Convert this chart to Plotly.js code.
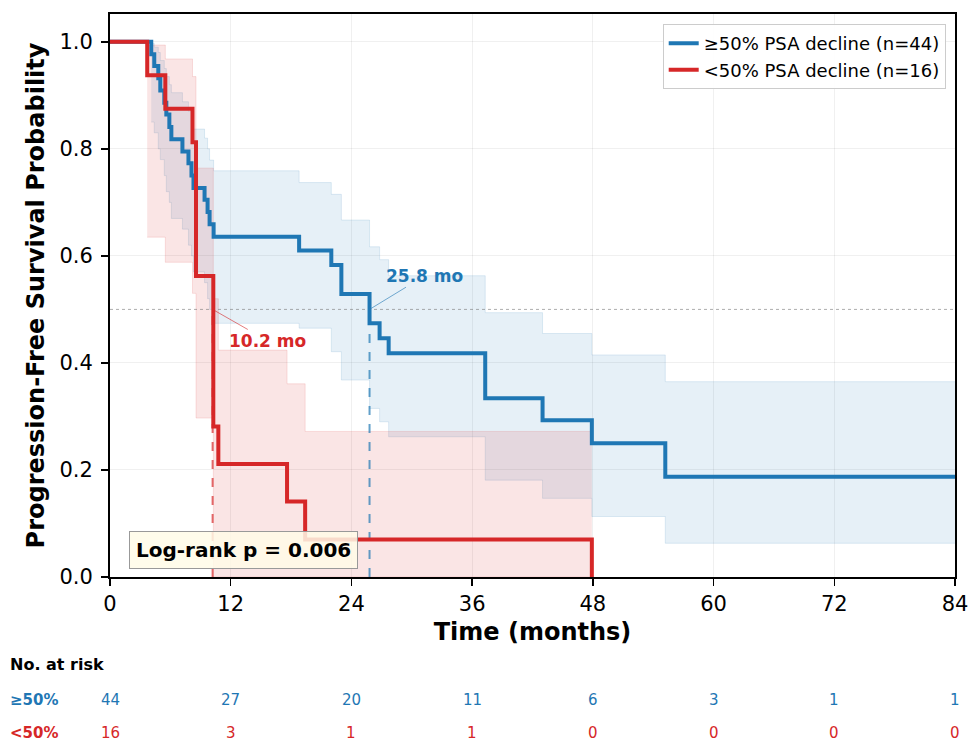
<!DOCTYPE html>
<html>
<head>
<meta charset="utf-8">
<script src="https://cdn.plot.ly/plotly-3.0.1.min.js"></script>
<style>
  html, body { margin: 0; padding: 0; background: #fff; }
  #chart { width: 980px; height: 750px; }
</style>
</head>
<body>
<div id="chart"></div>
<script>
// Kaplan-Meier values (months, survival probability)
const blueTime = [0, 4.1, 4.4, 4.8, 5.0, 5.4, 5.6, 5.9, 6.1, 7.2, 7.8, 8.1, 8.3, 9.4, 9.7, 9.9, 10.3, 18.8, 22.0, 23.0, 25.8, 26.8, 27.7, 37.3, 43.0, 47.9, 55.2, 84];
const blueSurv = [1.0, 0.977, 0.955, 0.932, 0.909, 0.886, 0.864, 0.841, 0.818, 0.795, 0.773, 0.750, 0.727, 0.705, 0.682, 0.659, 0.636, 0.610, 0.583, 0.529, 0.474, 0.446, 0.418, 0.334, 0.293, 0.250, 0.1875, 0.1875];
const blueUpper = [1.0, 0.997, 0.99, 0.98, 0.965, 0.95, 0.935, 0.92, 0.905, 0.888, 0.87, 0.855, 0.837, 0.82, 0.80, 0.779, 0.759, 0.737, 0.715, 0.667, 0.617, 0.593, 0.563, 0.494, 0.455, 0.415, 0.365, 0.365];
const blueLower = [1.0, 0.85, 0.83, 0.80, 0.78, 0.75, 0.72, 0.70, 0.67, 0.65, 0.62, 0.60, 0.57, 0.55, 0.52, 0.50, 0.474, 0.465, 0.421, 0.368, 0.315, 0.290, 0.262, 0.181, 0.147, 0.113, 0.063, 0.063];

const redTime = [0, 3.7, 5.5, 8.2, 8.55, 10.27, 10.77, 17.6, 19.4, 47.9];
const redSurv = [1.0, 0.9375, 0.875, 0.8125, 0.5625, 0.281, 0.211, 0.141, 0.070, 0.0];
const redBandTime = [3.7, 5.5, 8.2, 8.55, 10.27, 10.77, 17.6, 19.4, 47.9];
const redUpper = [0.994, 0.968, 0.935, 0.764, 0.52, 0.424, 0.361, 0.272, 0.272];
const redLower = [0.635, 0.588, 0.53, 0.297, 0, 0, 0, 0, 0];

const blueMedian = 25.8;
const redMedian = 10.2;
const pValue = '0.006';

const riskTimes = [0, 12, 24, 36, 48, 60, 72, 84];
const blueRisk = [44, 27, 20, 11, 6, 3, 1, 1];
const redRisk = [16, 3, 1, 1, 0, 0, 0, 0];

const BLUE = '#1f77b4';
const RED = '#d62728';
const FONT = 'DejaVu Sans, sans-serif';

const traces = [
    // confidence bands
    {
        x: blueTime.slice(1), y: blueUpper.slice(1), mode: 'lines',
        line: { shape: 'hv', color: 'rgba(31,119,180,0.13)', width: 1 },
        showlegend: false, hoverinfo: 'skip'
    },
    {
        x: blueTime.slice(1), y: blueLower.slice(1), mode: 'lines',
        line: { shape: 'hv', color: 'rgba(31,119,180,0.13)', width: 1 },
        fill: 'tonexty', fillcolor: 'rgba(31,119,180,0.11)',
        showlegend: false, hoverinfo: 'skip'
    },
    {
        x: redBandTime, y: redUpper, mode: 'lines',
        line: { shape: 'hv', color: 'rgba(214,39,40,0.13)', width: 1 },
        showlegend: false, hoverinfo: 'skip'
    },
    {
        x: redBandTime, y: redLower, mode: 'lines',
        line: { shape: 'hv', color: 'rgba(214,39,40,0.13)', width: 1 },
        fill: 'tonexty', fillcolor: 'rgba(214,39,40,0.12)',
        showlegend: false, hoverinfo: 'skip'
    },
    // median reference lines
    {
        x: [0, 84], y: [0.5, 0.5], mode: 'lines',
        line: { color: 'rgba(120,120,120,0.6)', width: 1, dash: 'dot' },
        showlegend: false, hoverinfo: 'skip'
    },
    {
        x: [blueMedian, blueMedian], y: [0, 0.5], mode: 'lines',
        line: { color: 'rgba(31,119,180,0.7)', width: 2, dash: 'dash' },
        showlegend: false, hoverinfo: 'skip'
    },
    {
        x: [redMedian, redMedian], y: [0, 0.5], mode: 'lines',
        line: { color: 'rgba(214,39,40,0.7)', width: 2, dash: 'dash' },
        showlegend: false, hoverinfo: 'skip'
    },
    // survival curves
    {
        x: blueTime, y: blueSurv, mode: 'lines', name: '≥50% PSA decline (n=44)',
        line: { shape: 'hv', color: BLUE, width: 4 }
    },
    {
        x: redTime, y: redSurv, mode: 'lines', name: '<50% PSA decline (n=16)',
        line: { shape: 'hv', color: RED, width: 4 }
    }
];

const annotations = [
    {
        x: blueMedian, y: 0.5, xref: 'x', yref: 'y',
        ax: 31.3, ay: 0.563, axref: 'x', ayref: 'y',
        text: '<b>25.8 mo</b>', showarrow: true, arrowhead: 0, arrowwidth: 1,
        arrowcolor: 'rgba(31,119,180,0.6)', standoff: 2,
        font: { family: FONT, size: 17, color: BLUE }
    },
    {
        x: redMedian, y: 0.5, xref: 'x', yref: 'y',
        ax: 15.7, ay: 0.441, axref: 'x', ayref: 'y',
        text: '<b>10.2 mo</b>', showarrow: true, arrowhead: 0, arrowwidth: 1,
        arrowcolor: 'rgba(214,39,40,0.6)', standoff: 2,
        font: { family: FONT, size: 17, color: RED }
    },
    {
        x: 13.25, y: 0.0505, xref: 'x', yref: 'y',
        text: '<b>Log-rank p = ' + pValue + '</b>', showarrow: false,
        bgcolor: 'rgba(255,252,232,0.85)', bordercolor: '#999', borderwidth: 1, borderpad: 6,
        font: { family: FONT, size: 20, color: '#000' }
    },
    {
        x: -0.1207, y: -0.1563, xref: 'paper', yref: 'paper', xanchor: 'left', yanchor: 'middle',
        text: '<b>No. at risk</b>', showarrow: false,
        font: { family: FONT, size: 16, color: '#000' }
    },
    {
        x: -0.1207, y: -0.2185, xref: 'paper', yref: 'paper', xanchor: 'left', yanchor: 'middle',
        text: '<b>≥50%</b>', showarrow: false,
        font: { family: FONT, size: 15, color: BLUE }
    },
    {
        x: -0.1207, y: -0.277, xref: 'paper', yref: 'paper', xanchor: 'left', yanchor: 'middle',
        text: '<b><50%</b>', showarrow: false,
        font: { family: FONT, size: 15, color: RED }
    }
];

riskTimes.forEach((t, i) => {
    annotations.push({
        x: t, y: -0.2185, xref: 'x', yref: 'paper', yanchor: 'middle', text: String(blueRisk[i]),
        showarrow: false, font: { family: FONT, size: 15, color: BLUE }
    });
    annotations.push({
        x: t, y: -0.277, xref: 'x', yref: 'paper', yanchor: 'middle', text: String(redRisk[i]),
        showarrow: false, font: { family: FONT, size: 15, color: RED }
    });
});

const layout = {
    width: 980,
    height: 750,
    margin: { l: 110, r: 25, t: 14, b: 173 },
    paper_bgcolor: '#fff',
    plot_bgcolor: '#fff',
    font: { family: FONT, color: '#000' },
    xaxis: {
        range: [0, 84],
        tickvals: riskTimes,
        ticks: 'outside', ticklen: 7, tickwidth: 1.5, tickcolor: '#000',
        tickfont: { size: 21 },
        showline: true, mirror: true, linecolor: '#000', linewidth: 2,
        showgrid: true, gridcolor: 'rgba(0,0,0,0.06)',
        zeroline: false,
        title: { text: '<b>Time (months)</b>', font: { size: 24 }, standoff: 8 }
    },
    yaxis: {
        range: [0, 1.052],
        tickvals: [0, 0.2, 0.4, 0.6, 0.8, 1.0],
        tickformat: '.1f',
        ticks: 'outside', ticklen: 7, tickwidth: 1.5, tickcolor: '#000',
        tickfont: { size: 21 },
        ticklabelstandoff: 4,
        showline: true, mirror: true, linecolor: '#000', linewidth: 2,
        showgrid: true, gridcolor: 'rgba(0,0,0,0.06)',
        zeroline: false,
        title: { text: '<b>Progression-Free Survival Probability</b>', font: { size: 24 }, standoff: 8 }
    },
    legend: {
        x: 0.989, y: 0.982, xanchor: 'right', yanchor: 'top',
        traceorder: 'normal',
        bgcolor: 'rgba(255,255,255,0.9)', bordercolor: '#ccc', borderwidth: 1,
        font: { size: 18 }
    },
    annotations: annotations,
    showlegend: true
};

Plotly.newPlot('chart', traces, layout, { displayModeBar: false, staticPlot: true });
</script>
</body>
</html>
